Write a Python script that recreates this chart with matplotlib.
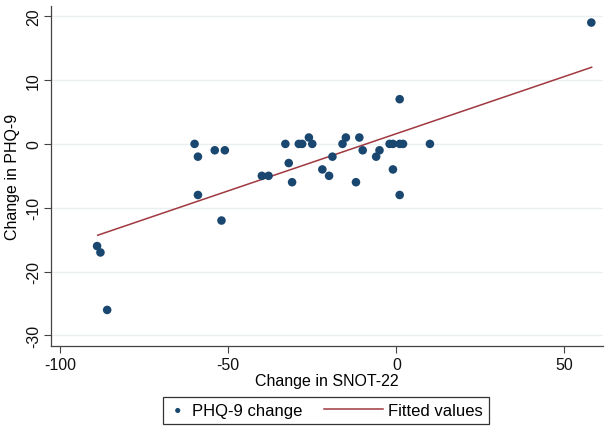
import matplotlib
matplotlib.use("Agg")
import matplotlib.pyplot as plt
from matplotlib.lines import Line2D
from matplotlib.legend_handler import HandlerLine2D

# Change in SNOT-22 vs change in PHQ-9
snot_change = [58, -89, -88, -86, -60, -59, -59, -54, -51, -52,
               -40, -38, -33, -32, -31, -29, -28, -26, -25, -22,
               -20, -19, -16, -15, -12, -11, -10, -6, -5, -2,
               -1, -1, 1, 1, 1, 2, 10]
phq_change = [19, -16, -17, -26, 0, -2, -8, -1, -1, -12,
              -5, -5, 0, -3, -6, 0, 0, 1, 0, -4,
              -5, -2, 0, 1, -6, 1, -1, -2, -1, 0,
              0, -4, 7, -8, 0, 0, 0]

# fitted line end points
fit_x = [-88.8, 58.1]
fit_y = [-14.3, 12.0]

x_ticks = [-100, -50, 0, 50]
y_ticks = [-30, -20, -10, 0, 10, 20]


class LongLineHandler(HandlerLine2D):
    # legend line that reaches back into the column gap
    def create_artists(self, legend, orig_handle, xdescent, ydescent,
                       width, height, fontsize, trans):
        ext = 2.5 * fontsize
        y = height / 2 - ydescent
        ln = Line2D([-xdescent - ext, width - xdescent], [y, y],
                    color=orig_handle.get_color(),
                    linewidth=orig_handle.get_linewidth())
        ln.set_transform(trans)
        return [ln]


plt.rcParams['font.family'] = ['Liberation Sans', 'DejaVu Sans']
plt.rcParams['font.size'] = 11.5
plt.rcParams['axes.unicode_minus'] = False

fig = plt.figure(figsize=(6.07, 4.35), dpi=100)
ax = fig.add_axes([0.0835, 0.203, 0.9095, 0.781])

for yv in y_ticks:
    ax.axhline(yv, color='#eaf0f2', lw=1.0, zorder=0)

ax.scatter(snot_change, phq_change, s=38, color='#1a476f', edgecolors='none',
           zorder=3, label='PHQ-9 change')
fit_line, = ax.plot(fit_x, fit_y, color='#a0393f', lw=1.1, zorder=2,
                    label='Fitted values')

ax.set_xlim(-102.8, 61.4)
ax.set_ylim(-31.6, 21.6)
ax.set_xticks(x_ticks)
ax.set_yticks(y_ticks)
ax.set_yticklabels([str(v) for v in y_ticks], rotation=90, va='center')
for s in ['top', 'right']:
    ax.spines[s].set_visible(False)
for s in ['left', 'bottom']:
    ax.spines[s].set_color('#444444')
    ax.spines[s].set_linewidth(0.9)
ax.tick_params(direction='out', length=5, width=0.8, color='#444444', labelcolor='#111111')
ax.tick_params(axis='y', pad=2)
ax.tick_params(axis='x', pad=3)

ax.set_xlabel('Change in SNOT-22', labelpad=1)
ax.set_ylabel('Change in PHQ-9', labelpad=4)

leg = fig.legend(loc='upper center', bbox_to_anchor=(0.537, 0.085), ncol=2,
                 fontsize=12, frameon=True, fancybox=False, edgecolor='#333333',
                 framealpha=1, columnspacing=3.8, handlelength=1.08,
                 markerscale=0.6, borderpad=0.35, handletextpad=0.3,
                 borderaxespad=0.0,
                 handler_map={fit_line: LongLineHandler()})
leg.get_frame().set_linewidth(0.9)

fig.savefig('out.png', dpi=100)
